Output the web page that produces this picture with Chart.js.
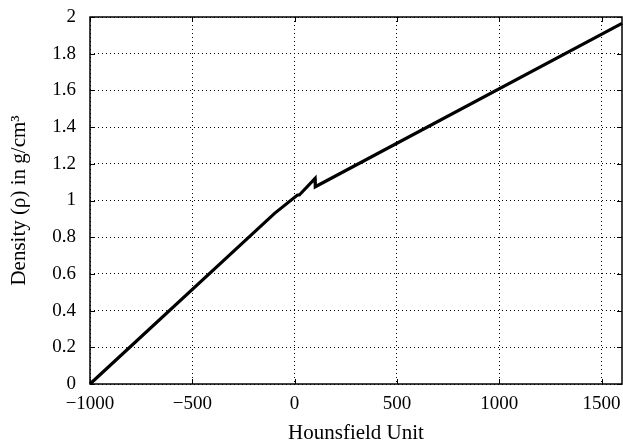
<!DOCTYPE html>
<html>
<head>
<meta charset="utf-8">
<script src="https://cdn.jsdelivr.net/npm/chart.js@4/dist/chart.umd.min.js"></script>
<style>
html,body{margin:0;padding:0;background:#fff;}
canvas{display:block;}
</style>
</head>
<body>
<canvas id="c" width="623" height="443"></canvas>
<script>
const hounsfield = [-1000, -98, 14, 23, 100, 101, 1600];
const density    = [0, 0.93, 1.03, 1.03, 1.12, 1.075, 1.965];
const xTicks = [-1000, -500, 0, 500, 1000, 1500];
const yTicks = [0, 0.2, 0.4, 0.6, 0.8, 1, 1.2, 1.4, 1.6, 1.8, 2];

const points = hounsfield.map((h, i) => ({x: h, y: density[i]}));
const FAMILY = '"Liberation Serif", "DejaVu Serif", serif';
const TICK_FONT = {family: FAMILY, size: 19};
const TITLE_FONT = {family: FAMILY, size: 21};

const framePlugin = {
  id: 'frame',
  afterDraw(chart) {
    const {ctx, chartArea: a, scales} = chart;
    ctx.save();
    ctx.strokeStyle = '#000';
    ctx.lineWidth = 1;
    ctx.beginPath();
    const L = 5;
    xTicks.forEach(v => {
      const px = Math.round(scales.x.getPixelForValue(v)) + 0.5;
      ctx.moveTo(px, a.bottom); ctx.lineTo(px, a.bottom - L);
      ctx.moveTo(px, a.top); ctx.lineTo(px, a.top + L);
    });
    yTicks.forEach(v => {
      const py = Math.round(scales.y.getPixelForValue(v)) + 0.5;
      ctx.moveTo(a.left, py); ctx.lineTo(a.left + L, py);
      ctx.moveTo(a.right, py); ctx.lineTo(a.right - L, py);
    });
    ctx.stroke();
    ctx.lineWidth = 1.5;
    ctx.strokeRect(a.left, a.top, a.right - a.left, a.bottom - a.top);
    ctx.restore();
  }
};

new Chart(document.getElementById('c'), {
  type: 'scatter',
  data: {
    datasets: [{
      data: points,
      showLine: true,
      borderColor: '#000',
      borderWidth: 3.2,
      pointRadius: 0,
      tension: 0,
      borderJoinStyle: 'miter',
      clip: false
    }]
  },
  options: {
    responsive: false,
    animation: false,
    devicePixelRatio: 1,
    layout: {padding: {top: 17, right: 1, left: 0, bottom: 0}},
    plugins: {legend: {display: false}, tooltip: {enabled: false}},
    scales: {
      x: {
        type: 'linear',
        min: -1000, max: 1600,
        afterBuildTicks: s => { s.ticks = xTicks.map(v => ({value: v})); },
        afterFit: s => { s.height = 59; s.paddingLeft = 0; s.paddingRight = 0; },
        border: {display: false, dash: [1, 3]},
        grid: {color: '#000', lineWidth: 1, drawTicks: false},
        ticks: {
          color: '#000', font: TICK_FONT, padding: 9, maxRotation: 0,
          callback: v => String(v).replace('-', '\u2212')
        },
        title: {display: true, text: 'Hounsfield Unit', color: '#000',
                font: Object.assign({}, TITLE_FONT, {lineHeight: 0.9}), padding: {top: 0, bottom: 0}}
      },
      y: {
        type: 'linear',
        min: 0, max: 2,
        afterBuildTicks: s => { s.ticks = yTicks.map(v => ({value: v})); },
        afterFit: s => { s.width = 90; s.paddingTop = 0; s.paddingBottom = 0; },
        border: {display: false, dash: [1, 3]},
        grid: {color: '#000', lineWidth: 1, drawTicks: false},
        ticks: {color: '#000', font: TICK_FONT, padding: 14,
                callback: v => String(Number(Number(v).toFixed(1)))},
        title: {display: true, text: 'Density (\u03c1) in g/cm\u00b3', color: '#000', font: TITLE_FONT, padding: {top: 7, bottom: 0}}
      }
    }
  },
  plugins: [framePlugin]
});
</script>
</body>
</html>
